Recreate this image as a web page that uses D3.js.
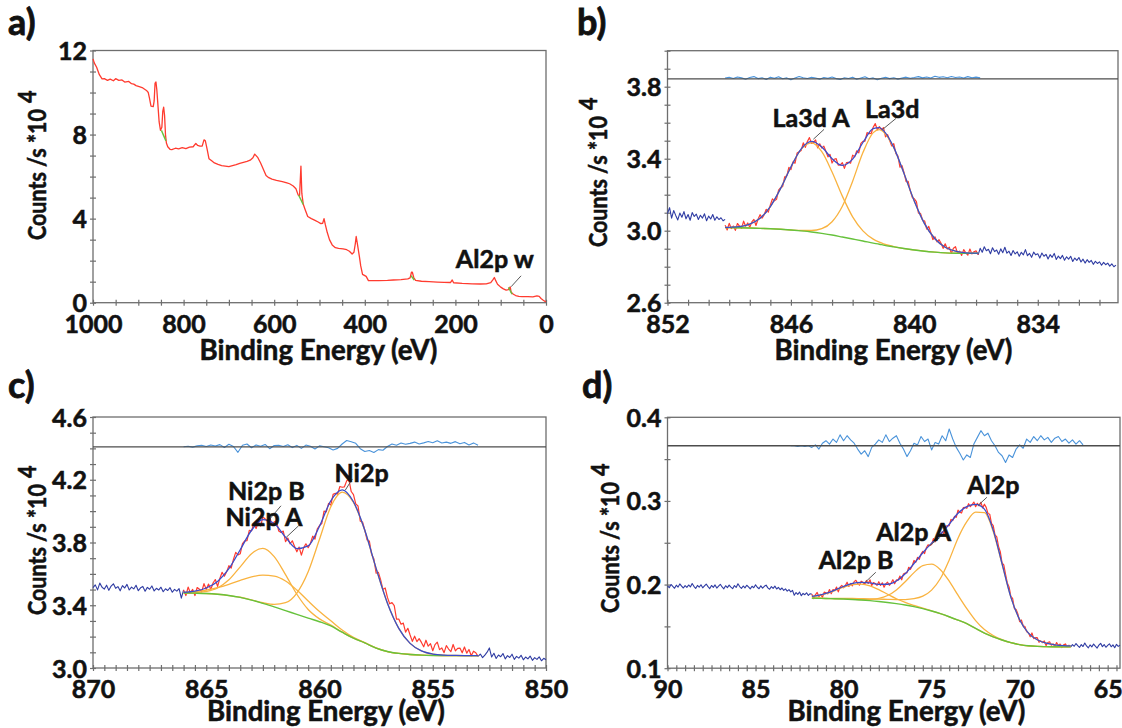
<!DOCTYPE html>
<html>
<head>
<meta charset="utf-8">
<script src="https://cdn.jsdelivr.net/npm/d3@7"></script>
<style>
  body { margin: 0; background: #fff; }
  svg { display: block; }
  text { font-family: Lato, "Open Sans", "DejaVu Sans", sans-serif; font-weight: 700; fill: #111;
         stroke: #111; stroke-width: 0.55px; paint-order: stroke; }
</style>
</head>
<body>
<svg id="chart" width="1122" height="728"></svg>
<script>
// ---------------- a) survey spectrum ----------------
const surveyEV = [1000, 997, 992, 986, 980, 975, 968, 962, 955, 950, 943, 936, 930, 921, 915, 910, 905, 898, 890, 882,
  878, 875, 872, 867, 865, 863, 861, 859, 856, 854, 851, 848, 846, 844, 842, 840, 838, 835, 830, 826,
  818, 811, 803, 795, 787, 779, 773, 769, 764, 759, 755, 752, 748, 744, 738, 732, 724, 716, 708, 700,
  692, 684, 676, 668, 660, 653, 647, 643, 640, 636, 630, 624, 618, 612, 605, 595, 582, 572, 566, 558,
  552, 547, 544, 541, 539, 536, 532, 526, 518, 511, 503, 497, 493, 490, 487, 483, 478, 472, 465, 458,
  448, 440, 434, 428, 424, 421, 419, 416, 412, 409, 405, 401, 397, 392, 380, 369, 350, 337, 320, 305,
  300, 297, 295, 292, 288, 275, 258, 240, 225, 211, 207, 204, 185, 163, 145, 132, 122, 117, 114, 111,
  107, 100, 94, 88, 83, 79, 77, 72, 67, 60, 53, 40, 29, 20, 15, 11, 6, 2, 0];
const surveyCounts = [11.6, 11.4, 11.2, 10.85, 10.65, 10.66, 10.58, 10.64, 10.56, 10.66, 10.58, 10.6, 10.5, 10.53, 10.42, 10.4, 10.33, 10.28, 10.22, 10.1,
  10.0, 9.7, 9.35, 9.33, 9.6, 10.45, 10.5, 10.1, 9.2, 8.6, 8.2, 8.35, 9.1, 9.3, 8.9, 8.0, 7.6, 7.42, 7.3, 7.28,
  7.35, 7.32, 7.38, 7.33, 7.4, 7.42, 7.58, 7.48, 7.45, 7.45, 7.75, 7.7, 7.3, 6.85, 6.75, 6.65, 6.58, 6.52, 6.5, 6.47,
  6.52, 6.57, 6.63, 6.68, 6.72, 6.78, 6.9, 7.07, 7.0, 6.9, 6.65, 6.35, 6.05, 5.95, 5.88, 5.82, 5.76, 5.7, 5.66, 5.55,
  5.42, 5.12, 5.1, 6.5, 5.2, 4.7, 4.45, 4.1, 4.0, 3.93, 3.84, 3.76, 3.78, 4.0, 3.7, 3.35, 3.0, 2.75, 2.62, 2.58,
  2.56, 2.52, 2.45, 2.32, 2.4, 2.8, 3.15, 2.75, 2.2, 1.75, 1.35, 1.3, 1.25, 1.05, 1.05, 1.05, 1.06, 1.08, 1.1, 1.13,
  1.18, 1.45, 1.45, 1.2, 1.06, 1.02, 1.0, 0.98, 0.97, 0.96, 1.08, 0.95, 0.92, 0.9, 0.89, 0.9, 0.95, 1.1, 1.2, 1.05,
  0.88, 0.74, 0.66, 0.6, 0.62, 0.75, 0.5, 0.4, 0.34, 0.3, 0.29, 0.29, 0.28, 0.32, 0.3, 0.2, 0.12, 0.06, 0.05];
// short background segments under the fitted survey peaks: [eV, counts] pairs
const surveyBackgrounds = [
  [[849, 8.2], [839, 7.7]],
  [[546, 5.11], [536, 4.68]],
  [[298, 1.29], [291, 1.08]],
  [[83, 0.73], [75, 0.41]]
];
const aXTicks = [1000, 800, 600, 400, 200, 0];
const aYTicks = [0, 4, 8, 12];
const aNotes = [{ text: "Al2p w", at: [199, 1.66], lead: [[77, 0.76], [55, 1.28]] }];

// ---------------- b) La3d region ----------------
const laOuterLeft = [3.095, 3.128, 3.070, 3.112, 3.085, 3.060, 3.098, 3.075, 3.106, 3.066, 3.090, 3.058, 3.101, 3.079, 3.092,
  3.062, 3.086, 3.070, 3.094, 3.055, 3.081, 3.065, 3.090, 3.058, 3.077, 3.062, 3.072, 3.055, 3.063];           // 852.0 -> 849.2
const laRaw = [3.031, 3.004, 3.041, 3.012, 3.026, 3.002, 3.040, 3.026, 3.013, 3.053,
  3.025, 3.043, 3.019, 3.049, 3.063, 3.029, 3.063, 3.089, 3.070, 3.089,
  3.119, 3.103, 3.143, 3.177, 3.166, 3.174, 3.225, 3.239, 3.246, 3.300,
  3.305, 3.352, 3.340, 3.382, 3.375, 3.431, 3.438, 3.446, 3.488, 3.463,
  3.496, 3.517, 3.485, 3.490, 3.504, 3.460, 3.483, 3.459, 3.470, 3.441,
  3.410, 3.424, 3.376, 3.397, 3.400, 3.364, 3.365, 3.378, 3.346, 3.378,
  3.380, 3.375, 3.420, 3.410, 3.444, 3.432, 3.485, 3.496, 3.498, 3.545,
  3.539, 3.540, 3.575, 3.595, 3.561, 3.578, 3.560, 3.573, 3.521, 3.533,
  3.501, 3.471, 3.484, 3.429, 3.416, 3.353, 3.362, 3.322, 3.272, 3.274,
  3.223, 3.185, 3.177, 3.162, 3.097, 3.096, 3.059, 3.054, 3.009, 3.024,
  2.990, 2.951, 2.966, 2.938, 2.950, 2.930, 2.902, 2.927, 2.898, 2.908,
  2.874, 2.902, 2.911, 2.874, 2.886, 2.863, 2.895, 2.877, 2.864, 2.898,
  2.871, 2.883, 2.888, 2.866];                                                                         // 849.2 -> 836.9
const laOuterRight = [2.866, 2.902, 2.880, 2.911, 2.889, 2.897, 2.872, 2.905, 2.884, 2.893, 2.869, 2.899, 2.878, 2.908, 2.875,
  2.886, 2.862, 2.890, 2.871, 2.883, 2.858, 2.880, 2.866, 2.895, 2.861, 2.874, 2.852, 2.881, 2.866, 2.872,
  2.848, 2.876, 2.858, 2.869, 2.843, 2.867, 2.852, 2.874, 2.840, 2.859, 2.845, 2.863, 2.836, 2.855, 2.842,
  2.858, 2.829, 2.848, 2.835, 2.851, 2.826, 2.842, 2.820, 2.839, 2.824, 2.835, 2.813, 2.830, 2.818, 2.827,
  2.808, 2.824, 2.811, 2.820, 2.803, 2.816, 2.800, 2.809];                                               // 836.9 -> 830.2
const laFitEV = [849.2, 849, 848.5, 848, 847.5, 847, 846.5, 846, 845.5, 845, 844.5, 844, 843.5, 843, 842.5, 842, 841.7, 841.5,
  841, 840.5, 840, 839.5, 839, 838.5, 838, 837.5, 837, 836.9];
const laBackground = [3.017, 3.017, 3.016, 3.015, 3.013, 3.011, 3.008, 3.004, 2.999, 2.993, 2.985, 2.976, 2.965, 2.954, 2.943, 2.931, 2.925, 2.920,
  2.910, 2.901, 2.893, 2.886, 2.881, 2.877, 2.875, 2.874, 2.874, 2.874];
const laPeakA = [3.018, 3.019, 3.023, 3.037, 3.069, 3.134, 3.235, 3.354, 3.453, 3.488, 3.439, 3.326, 3.192, 3.077, 2.999, 2.953, 2.936, 2.927,
  2.912, 2.901, 2.893, 2.886, 2.881, 2.877, 2.875, 2.874, 2.874, 2.874];
const laPeak = [3.017, 3.017, 3.016, 3.015, 3.013, 3.011, 3.008, 3.004, 3.001, 3.001, 3.011, 3.050, 3.136, 3.275, 3.434, 3.545, 3.562, 3.549,
  3.461, 3.317, 3.164, 3.038, 2.955, 2.908, 2.886, 2.877, 2.875, 2.875];
const laEnvelope = [3.018, 3.019, 3.023, 3.037, 3.069, 3.134, 3.235, 3.354, 3.455, 3.496, 3.465, 3.400, 3.363, 3.398, 3.490, 3.567, 3.573, 3.556,
  3.463, 3.317, 3.164, 3.038, 2.955, 2.908, 2.886, 2.877, 2.875, 2.875];
const laResidual = [0.004, 0.008, 0.002, 0.010, 0.005, -0.003, 0.007, 0.012, 0.001, 0.006,
  -0.004, 0.009, 0.003, 0.011, 0.000, 0.005, -0.006, 0.004, 0.013, 0.006,
  0.002, 0.008, 0.004, -0.002, 0.007, 0.003, 0.010, 0.001, -0.004, 0.006,
  0.002, 0.009, -0.003, 0.004, 0.011, 0.000, 0.005, -0.005, 0.003, 0.008,
  0.001, 0.006, -0.002, 0.004, 0.009, 0.003, 0.007, 0.012, 0.005, 0.010,
  0.004, 0.014, 0.008, 0.011, 0.006, 0.013, 0.007, 0.010, 0.004, 0.012,
  0.006, 0.009, 0.005];                                                                                 // 849.2 -> 836.8, 0.2 eV
const bXTicks = [852, 846, 840, 834];
const bYTicks = [2.6, 3.0, 3.4, 3.8];
const bNotes = [
  { text: "La3d A", at: [846.89, 3.578], lead: [[844.91, 3.508], [844.39, 3.563]] },
  { text: "La3d", at: [842.4, 3.624], lead: [[841.54, 3.563], [840.89, 3.624]] }
];

// ---------------- c) Ni2p region ----------------
const niOuterLeft = [3.512, 3.530, 3.498, 3.541, 3.515, 3.503, 3.528, 3.495, 3.522, 3.537, 3.508, 3.519, 3.492, 3.525,
  3.510, 3.533, 3.497, 3.516, 3.504, 3.527, 3.493, 3.511, 3.520, 3.489, 3.514, 3.502, 3.523, 3.491, 3.508, 3.497,
  3.515, 3.486, 3.505, 3.494, 3.512, 3.483, 3.501, 3.490, 3.506, 3.445, 3.498];                            // 870.0 -> 866.0
const niRaw = [3.498, 3.462, 3.516, 3.479, 3.501, 3.462, 3.513, 3.502, 3.486, 3.538,
  3.500, 3.535, 3.500, 3.542, 3.564, 3.520, 3.571, 3.610, 3.585, 3.613,
  3.652, 3.637, 3.692, 3.737, 3.721, 3.728, 3.793, 3.810, 3.812, 3.878,
  3.874, 3.921, 3.889, 3.930, 3.905, 3.963, 3.950, 3.935, 3.967, 3.910,
  3.931, 3.938, 3.873, 3.864, 3.873, 3.806, 3.829, 3.792, 3.811, 3.775,
  3.741, 3.771, 3.720, 3.766, 3.792, 3.767, 3.795, 3.840, 3.822, 3.886,
  3.908, 3.921, 4.000, 3.995, 4.049, 4.039, 4.107, 4.114, 4.108, 4.157,
  4.152, 4.155, 4.193, 4.201, 4.125, 4.105, 4.046, 4.033, 3.936, 3.931,
  3.879, 3.816, 3.810, 3.724, 3.696, 3.604, 3.610, 3.561, 3.501, 3.510,
  3.450, 3.409, 3.417, 3.398, 3.312, 3.312, 3.279, 3.286, 3.229, 3.253,
  3.210, 3.170, 3.203, 3.168, 3.187, 3.163, 3.135, 3.177, 3.139, 3.155,
  3.110, 3.149, 3.165, 3.117, 3.128, 3.098, 3.143, 3.121, 3.104, 3.150,
  3.109, 3.125, 3.127, 3.097, 3.134, 3.095, 3.118, 3.078, 3.107, 3.097,
  3.074];                                                                                              // 866.0 -> 853.0
const niOuterRight = [3.074, 3.089, 3.066, 3.082, 3.101, 3.128, 3.070, 3.094, 3.061, 3.083, 3.072, 3.092, 3.058, 3.079,
  3.067, 3.088, 3.055, 3.074, 3.063, 3.081, 3.052, 3.070, 3.058, 3.076, 3.049, 3.066, 3.055, 3.071, 3.046, 3.062, 3.053]; // 853.0 -> 850.0
const niFitEV = [866, 865.5, 865, 864.5, 864, 863.5, 863, 862.5, 862, 861.5, 861, 860.5, 860, 859.5, 859, 858.5, 858, 857.5,
  857, 856.5, 856, 855.5, 855, 854.5, 854, 853.5, 853];
const niBackground = [3.478, 3.477, 3.475, 3.470, 3.462, 3.450, 3.433, 3.412, 3.390, 3.366, 3.342, 3.318, 3.295, 3.268, 3.228, 3.190, 3.160, 3.127,
  3.105, 3.093, 3.086, 3.082, 3.080, 3.079, 3.079, 3.079, 3.079];
const niPeakB = [3.479, 3.480, 3.488, 3.510, 3.562, 3.645, 3.729, 3.762, 3.710, 3.595, 3.470, 3.373, 3.313, 3.273, 3.229, 3.190, 3.160, 3.127,
  3.105, 3.093, 3.086, 3.082, 3.080, 3.079, 3.079, 3.079, 3.079];
const niPeakA = [3.482, 3.487, 3.497, 3.512, 3.533, 3.558, 3.581, 3.592, 3.586, 3.555, 3.497, 3.427, 3.360, 3.301, 3.242, 3.195, 3.162, 3.128,
  3.105, 3.093, 3.086, 3.082, 3.080, 3.079, 3.079, 3.079, 3.079];
const niPeak = [3.478, 3.477, 3.475, 3.470, 3.462, 3.451, 3.434, 3.416, 3.405, 3.416, 3.478, 3.614, 3.821, 4.028, 4.121, 4.055, 3.876, 3.634,
  3.413, 3.253, 3.157, 3.109, 3.089, 3.082, 3.080, 3.079, 3.079];
const niEnvelope = [3.483, 3.490, 3.510, 3.552, 3.633, 3.754, 3.878, 3.946, 3.921, 3.834, 3.761, 3.778, 3.904, 4.066, 4.136, 4.060, 3.878, 3.635,
  3.413, 3.253, 3.157, 3.109, 3.089, 3.082, 3.080, 3.079, 3.079];
const niResidual = [0.000, 0.004, -0.002, 0.006, 0.010, 0.002, 0.012, 0.005, 0.014, -0.004,
  0.016, 0.002, -0.035, 0.010, 0.018, -0.006, 0.012, 0.004, 0.015, -0.012,
  0.008, 0.010, 0.002, 0.013, -0.005, 0.009, -0.010, 0.011, 0.003, -0.014,
  0.006, 0.000, -0.006, -0.020, -0.010, 0.018, 0.040, 0.032, 0.022, -0.012,
  -0.030, -0.024, -0.036, -0.018, -0.022, 0.002, 0.018, 0.010, 0.024, 0.016,
  0.022, 0.030, 0.018, 0.025, 0.034, 0.026, 0.038, 0.024, 0.030, 0.022,
  0.033, 0.020, 0.028, 0.012, 0.025, 0.010];                                                            // 866.0 -> 853.0, 0.2 eV
const cXTicks = [870, 865, 860, 855, 850];
const cYTicks = [3.0, 3.4, 3.8, 4.2, 4.6];
const cNotes = [
  { text: "Ni2p", at: [859.34, 4.185], lead: [[858.86, 4.134], [858.55, 4.205]] },
  { text: "Ni2p B", at: [864.04, 4.068], lead: [[862.26, 3.939], [861.70, 4.034]] },
  { text: "Ni2p A", at: [864.15, 3.905], lead: [[861.47, 3.833], [860.92, 3.907]] }
];

// ---------------- d) Al2p region ----------------
const alOuterLeft = [0.1985, 0.1962, 0.2001, 0.1978, 0.1956, 0.1993, 0.1970, 0.2008, 0.1981, 0.1959,
  0.1987, 0.1966, 0.1995, 0.1972, 0.2012, 0.1979, 0.1954, 0.1990, 0.1968, 0.1998,
  0.1961, 0.1984, 0.2006, 0.1975, 0.1952, 0.1989, 0.1967, 0.1996, 0.1958, 0.1982,
  0.2003, 0.1971, 0.1949, 0.1986, 0.1963, 0.1994, 0.1969, 0.1951, 0.1988, 0.1966,
  0.2010, 0.1976, 0.1955, 0.1983, 0.1960, 0.1992, 0.1973, 0.1948, 0.1980, 0.1962,
  0.1997, 0.1968, 0.1950, 0.1985, 0.1957, 0.1979, 0.1993, 0.1960, 0.1944, 0.1975,
  0.1954, 0.1981, 0.1947, 0.1966, 0.1938, 0.1959, 0.1930, 0.1948, 0.1921, 0.1939,
  0.1912, 0.1930, 0.1872, 0.1905, 0.1883, 0.1911, 0.1867, 0.1894, 0.1879, 0.1902,
  0.1870, 0.1891, 0.1884];                                                                             // 90.0 -> 81.8
const alRaw = [0.1884, 0.1832, 0.1877, 0.1906, 0.1855, 0.1883, 0.1849, 0.1909, 0.1902, 0.1889,
  0.1941, 0.1891, 0.1940, 0.1928, 0.1970, 0.1913, 0.1969, 0.1990, 0.1962, 0.1988,
  0.2028, 0.1978, 0.2013, 0.1985, 0.2035, 0.2051, 0.2014, 0.1993, 0.2040, 0.2027,
  0.2004, 0.2049, 0.2013, 0.2057, 0.1989, 0.2023, 0.2013, 0.1990, 0.2034, 0.1990,
  0.2021, 0.1968, 0.2010, 0.2028, 0.1991, 0.2018, 0.2058, 0.2009, 0.2055, 0.2052,
  0.2102, 0.2057, 0.2127, 0.2138, 0.2139, 0.2207, 0.2182, 0.2225, 0.2288, 0.2267,
  0.2325, 0.2301, 0.2364, 0.2398, 0.2371, 0.2439, 0.2476, 0.2466, 0.2478, 0.2550,
  0.2511, 0.2560, 0.2601, 0.2585, 0.2633, 0.2610, 0.2700, 0.2702, 0.2704, 0.2779,
  0.2765, 0.2815, 0.2804, 0.2891, 0.2865, 0.2855, 0.2919, 0.2923, 0.2912, 0.2967,
  0.2932, 0.2955, 0.2987, 0.2931, 0.2971, 0.2942, 0.2983, 0.2917, 0.2961, 0.2923,
  0.2850, 0.2841, 0.2731, 0.2706, 0.2595, 0.2569, 0.2457, 0.2393, 0.2259, 0.2236,
  0.2122, 0.2019, 0.1972, 0.1860, 0.1836, 0.1715, 0.1702, 0.1649, 0.1556, 0.1576,
  0.1507, 0.1499, 0.1435, 0.1424, 0.1376, 0.1421, 0.1354, 0.1365, 0.1366, 0.1311,
  0.1327, 0.1307, 0.1326, 0.1270, 0.1308, 0.1316, 0.1275, 0.1291, 0.1261, 0.1306,
  0.1272, 0.1289, 0.1247, 0.1279, 0.1290, 0.1257, 0.1274, 0.1253];                                     // 81.8 -> 67.1
const alOuterRight = [0.1253, 0.1281, 0.1262, 0.1295, 0.1270, 0.1248, 0.1283, 0.1259, 0.1301, 0.1266,
  0.1244, 0.1278, 0.1255, 0.1289, 0.1263, 0.1241, 0.1276, 0.1298, 0.1258, 0.1283,
  0.1250, 0.1272, 0.1292, 0.1256, 0.1279, 0.1245, 0.1285, 0.1261, 0.1274];                              // 67.1 -> 64.3
const alFitEV = [81.8, 81.5, 81, 80.5, 80, 79.5, 79, 78.5, 78, 77.5, 77, 76.5, 76, 75.5, 75, 74.5, 74, 73.5, 73, 72.5,
  72, 71.5, 71, 70.5, 70, 69.5, 69, 68.5, 68, 67.5, 67.1];
const alBackground = [0.1838, 0.1836, 0.1833, 0.1830, 0.1827, 0.1822, 0.1816, 0.1808, 0.1798, 0.1786, 0.1772, 0.1756, 0.1736, 0.1712, 0.1684,
  0.1652, 0.1615, 0.1575, 0.1532, 0.1475, 0.1420, 0.1375, 0.1337, 0.1305, 0.1282, 0.1268, 0.1261, 0.1258, 0.1256, 0.1255, 0.1255];
const alPeakB = [0.1858, 0.1866, 0.1891, 0.1928, 0.1968, 0.1999, 0.2006, 0.1985, 0.1939, 0.1884, 0.1830, 0.1786, 0.1750, 0.1717, 0.1686,
  0.1652, 0.1615, 0.1575, 0.1532, 0.1475, 0.1420, 0.1375, 0.1337, 0.1305, 0.1282, 0.1268, 0.1261, 0.1258, 0.1256, 0.1255, 0.1255];
const alPeakA = [0.1838, 0.1836, 0.1833, 0.1830, 0.1828, 0.1824, 0.1820, 0.1822, 0.1834, 0.1869, 0.1936, 0.2034, 0.2143, 0.2226, 0.2244,
  0.2178, 0.2041, 0.1873, 0.1712, 0.1569, 0.1462, 0.1391, 0.1342, 0.1305, 0.1282, 0.1268, 0.1261, 0.1258, 0.1256, 0.1255, 0.1255];
const alPeak = [0.1839, 0.1838, 0.1836, 0.1835, 0.1835, 0.1834, 0.1832, 0.1829, 0.1826, 0.1823, 0.1820, 0.1821, 0.1831, 0.1862, 0.1934,
  0.2072, 0.2295, 0.2555, 0.2752, 0.2865, 0.2860, 0.2635, 0.2245, 0.1850, 0.1580, 0.1420, 0.1340, 0.1300, 0.1280, 0.1270, 0.1267];
const alEnvelope = [0.1859, 0.1868, 0.1894, 0.1933, 0.1977, 0.2013, 0.2026, 0.2020, 0.2003, 0.2004, 0.2042, 0.2129, 0.2252, 0.2381, 0.2496,
  0.2598, 0.2721, 0.2853, 0.2932, 0.2959, 0.2902, 0.2651, 0.2250, 0.1850, 0.1580, 0.1420, 0.1340, 0.1300, 0.1280, 0.1270, 0.1267];
const alResidual = [0.000, 0.000, -0.001, 0.000, -0.001, 0.000, -0.002, 0.001, -0.004, 0.003,
  0.006, 0.002, 0.008, 0.004, 0.013, 0.006, 0.012, 0.007, 0.003, -0.004,
  -0.010, -0.006, -0.013, -0.002, 0.002, 0.007, 0.004, 0.013, 0.005, 0.009,
  0.012, 0.003, -0.004, -0.013, -0.006, 0.003, 0.001, 0.011, 0.005, 0.008,
  -0.005, 0.004, 0.002, 0.012, 0.006, 0.020, 0.008, -0.002, -0.009, -0.017,
  -0.011, -0.014, 0.002, 0.010, 0.018, 0.012, 0.015, 0.006, 0.000, -0.008,
  -0.012, -0.020, -0.011, -0.014, -0.004, 0.001, -0.003, 0.008, 0.004, 0.011,
  0.006, 0.012, 0.007, 0.010, 0.004, 0.009, 0.011, 0.005, 0.008, 0.003,
  0.007, 0.002, 0.006, 0.001];                                                                         // 83.0 -> 66.4, 0.2 eV
const dXTicks = [90, 85, 80, 75, 70, 65];
const dYTicks = [0.1, 0.2, 0.3, 0.4];
const dNotes = [
  { text: "Al2p", at: [72.98, 0.3084], lead: [[72.37, 0.2944], [71.86, 0.3044]] },
  { text: "Al2p A", at: [78.15, 0.2522], lead: [[75.11, 0.2466], [74.51, 0.2566]] },
  { text: "Al2p B", at: [81.41, 0.2183], lead: [[78.77, 0.2028], [78.17, 0.2147]] }
];

// ---------------- drawing ----------------
const svg = d3.select("#chart");
const COL = {
  axis: "#6e6e6e", raw: "#ff3b2f", outer: "#2f3ca3", envelope: "#3a4ccc",
  comp: "#f9b340", bg: "#66c23c", resid: "#4a93da", base: "#4d4d4d", lead: "#5a5a5a"
};
const TICK_FONT = 25;

function series(start, step, values) {
  return values.map((v, i) => [start + i * step, v]);
}
function pairs(xs, ys) {
  return xs.map((x, i) => [x, ys[i]]);
}
function tickGrid(domain, step) {
  const lo = Math.min(domain[0], domain[1]), hi = Math.max(domain[0], domain[1]);
  const first = Math.ceil(lo / step - 1e-6) * step;
  const n = Math.floor((hi - first) / step + 1e-6);
  return d3.range(n + 1).map(i => +(first + i * step).toFixed(4));
}
function fitText(sel, target) {
  const w = sel.node().getComputedTextLength();
  const fs = parseFloat(sel.style("font-size")) * target / w;
  sel.style("font-size", fs + "px");
  return fs;
}

function makePanel(o) {
  const g = svg.append("g");
  const x = d3.scaleLinear().domain(o.xDomain).range([o.left, o.right]);
  const y = d3.scaleLinear().domain(o.yDomain).range([o.bottom, o.top]);
  const isMajor = (list) => (d) => list.some(m => Math.abs(m - d) < 1e-6);

  const xAxis = d3.axisBottom(x)
    .tickValues(tickGrid(o.xDomain, o.xMinor))
    .tickSizeInner(3).tickSizeOuter(0)
    .tickFormat(d => isMajor(o.xTicks)(d) ? d3.format("d")(d) : "");
  const gx = g.append("g").attr("transform", `translate(0,${o.bottom})`).call(xAxis)
    .attr("font-size", null).attr("font-family", null);
  gx.select(".domain").remove();
  gx.selectAll(".tick line").attr("y1", -3).attr("y2", 3).attr("stroke", COL.axis).attr("stroke-width", 1.2);
  gx.selectAll(".tick text").attr("y", o.xTickY).attr("dy", null).style("font-size", TICK_FONT + "px").attr("fill", "#111");

  const yAxis = d3.axisLeft(y)
    .tickValues(tickGrid(o.yDomain, o.yMinor))
    .tickSizeInner(3).tickSizeOuter(0)
    .tickFormat(d => isMajor(o.yTicks)(d) ? d3.format(o.yFormat)(d) : "");
  const gy = g.append("g").attr("transform", `translate(${o.left},0)`).call(yAxis)
    .attr("font-size", null).attr("font-family", null);
  gy.select(".domain").remove();
  gy.selectAll(".tick line").attr("x1", -3).attr("x2", 3).attr("stroke", COL.axis).attr("stroke-width", 1.2);
  gy.selectAll(".tick text").attr("x", -6).attr("dy", "0.36em").style("font-size", TICK_FONT + "px").attr("fill", "#111");

  g.append("rect")
    .attr("x", o.left).attr("y", o.top)
    .attr("width", o.right - o.left).attr("height", o.bottom - o.top)
    .attr("fill", "none").attr("stroke", COL.axis).attr("stroke-width", 1.3);

  const plot = g.append("g");
  const line = (curve) => d3.line().x(d => x(d[0])).y(d => y(d[1])).curve(curve || d3.curveLinear);
  const draw = (data, color, width, curve) =>
    plot.append("path").datum(data).attr("d", line(curve)).attr("fill", "none")
      .attr("stroke", color).attr("stroke-width", width).attr("stroke-linejoin", "round");

  // panel letter
  svg.append("text").attr("x", o.letterPos[0]).attr("y", o.letterPos[1])
    .style("font-size", "36px").style("stroke-width", "0.8px").text(o.letter);

  // axis titles
  const xt = svg.append("text").attr("x", o.xTitle[0]).attr("y", o.xTitle[1])
    .attr("text-anchor", "middle").style("font-size", "26px").text("Binding Energy (eV)");
  fitText(xt, 238);

  // vertical title: keep glyph height, compress along the text to the target length
  const yt = svg.append("text").attr("text-anchor", "start").style("font-size", "25.5px").text("Counts /s *10");
  const len = yt.node().getComputedTextLength();
  const k = 131 / len;
  yt.attr("transform", `translate(${o.yTitle[0]},${o.yTitle[1]}) rotate(-90) scale(${k},1)`);
  svg.append("text").style("font-size", "25.5px")
    .attr("transform", `translate(${o.yTitle[0] - 10},${o.yTitle[1] - 131 - 6}) rotate(-90) scale(${k},1)`)
    .text("4");

  return { g, x, y, draw, plot };
}

function annotate(p, notes) {
  notes.forEach(n => {
    p.plot.append("line")
      .attr("x1", p.x(n.lead[0][0])).attr("y1", p.y(n.lead[0][1]))
      .attr("x2", p.x(n.lead[1][0])).attr("y2", p.y(n.lead[1][1]))
      .attr("stroke", COL.lead).attr("stroke-width", 1);
    p.plot.append("text").attr("x", p.x(n.at[0])).attr("y", p.y(n.at[1]))
      .style("font-size", TICK_FONT + "px").text(n.text);
  });
}

function residualTrace(p, start, step, values, base) {
  const d = values.map((v, i) => [start + i * step, base + v]);
  p.draw(d, COL.resid, 1.1);
  const dom = p.x.domain();
  p.plot.append("line")
    .attr("x1", p.x(dom[0])).attr("x2", p.x(dom[1]))
    .attr("y1", p.y(base)).attr("y2", p.y(base))
    .attr("stroke", COL.base).attr("stroke-width", 1.3);
}

// a) survey
const pa = makePanel({
  left: 93, right: 546, top: 50.5, bottom: 302.7,
  xDomain: [1000, 0], yDomain: [0, 12], xMinor: 50, yMinor: 1,
  xTicks: aXTicks, yTicks: aYTicks, yFormat: "d", xTickY: 30.5,
  letter: "a)", letterPos: [8, 35], xTitle: [318.5, 360], yTitle: [46, 240]
});
pa.draw(pairs(surveyEV, surveyCounts), COL.raw, 1.3);
surveyBackgrounds.forEach(seg => pa.draw(seg, COL.bg, 1.4));
annotate(pa, aNotes);

// b) La3d
const pb = makePanel({
  left: 667.5, right: 1118, top: 50.7, bottom: 302.7,
  xDomain: [852, 830.1], yDomain: [2.6, 4.0], xMinor: 1, yMinor: 0.1,
  xTicks: bXTicks, yTicks: bYTicks, yFormat: ".1f", xTickY: 30.5,
  letter: "b)", letterPos: [577, 35], xTitle: [893.5, 360], yTitle: [607, 247]
});
pb.draw(series(852.0, -0.1, laOuterLeft), COL.outer, 1.1);
pb.draw(series(836.9, -0.1, laOuterRight), COL.outer, 1.1);
pb.draw(series(849.2, -0.1, laRaw), COL.raw, 1.2);
pb.draw(pairs(laFitEV, laPeakA), COL.comp, 1.3, d3.curveMonotoneX);
pb.draw(pairs(laFitEV, laPeak), COL.comp, 1.3, d3.curveMonotoneX);
pb.draw(pairs(laFitEV, laBackground), COL.bg, 1.4, d3.curveMonotoneX);
pb.draw(pairs(laFitEV, laEnvelope), COL.envelope, 1.3, d3.curveMonotoneX);
residualTrace(pb, 849.2, -0.2, laResidual, 3.844);
annotate(pb, bNotes);

// c) Ni2p
const pc = makePanel({
  left: 93, right: 546, top: 417, bottom: 668,
  xDomain: [870, 850], yDomain: [3.0, 4.6], xMinor: 0.5, yMinor: 0.1,
  xTicks: cXTicks, yTicks: cYTicks, yFormat: ".1f", xTickY: 29.5,
  letter: "c)", letterPos: [8, 398], xTitle: [326, 721], yTitle: [46, 615]
});
pc.draw(series(870.0, -0.1, niOuterLeft), COL.outer, 1.1);
pc.draw(series(853.0, -0.1, niOuterRight), COL.outer, 1.1);
pc.draw(series(866.0, -0.1, niRaw), COL.raw, 1.2);
pc.draw(pairs(niFitEV, niPeakB), COL.comp, 1.3, d3.curveMonotoneX);
pc.draw(pairs(niFitEV, niPeakA), COL.comp, 1.3, d3.curveMonotoneX);
pc.draw(pairs(niFitEV, niPeak), COL.comp, 1.3, d3.curveMonotoneX);
pc.draw(pairs(niFitEV, niBackground), COL.bg, 1.4, d3.curveMonotoneX);
pc.draw(pairs(niFitEV, niEnvelope), COL.envelope, 1.3, d3.curveMonotoneX);
residualTrace(pc, 866.0, -0.2, niResidual, 4.41);
annotate(pc, cNotes);

// d) Al2p
const pd = makePanel({
  left: 667.5, right: 1120, top: 417.3, bottom: 668.2,
  xDomain: [90, 64.3], yDomain: [0.1, 0.4], xMinor: 0.5, yMinor: 0.05,
  xTicks: dXTicks, yTicks: dYTicks, yFormat: ".1f", xTickY: 29.5,
  letter: "d)", letterPos: [582, 398], xTitle: [906.5, 721], yTitle: [619, 613]
});
pd.draw(series(90.0, -0.1, alOuterLeft), COL.outer, 1.1);
pd.draw(series(67.1, -0.1, alOuterRight), COL.outer, 1.1);
pd.draw(series(81.8, -0.1, alRaw), COL.raw, 1.2);
pd.draw(pairs(alFitEV, alPeakB), COL.comp, 1.3, d3.curveMonotoneX);
pd.draw(pairs(alFitEV, alPeakA), COL.comp, 1.3, d3.curveMonotoneX);
pd.draw(pairs(alFitEV, alPeak), COL.comp, 1.3, d3.curveMonotoneX);
pd.draw(pairs(alFitEV, alBackground), COL.bg, 1.4, d3.curveMonotoneX);
pd.draw(pairs(alFitEV, alEnvelope), COL.envelope, 1.3, d3.curveMonotoneX);
residualTrace(pd, 83.0, -0.2, alResidual, 0.366);
annotate(pd, dNotes);
</script>
</body>
</html>
